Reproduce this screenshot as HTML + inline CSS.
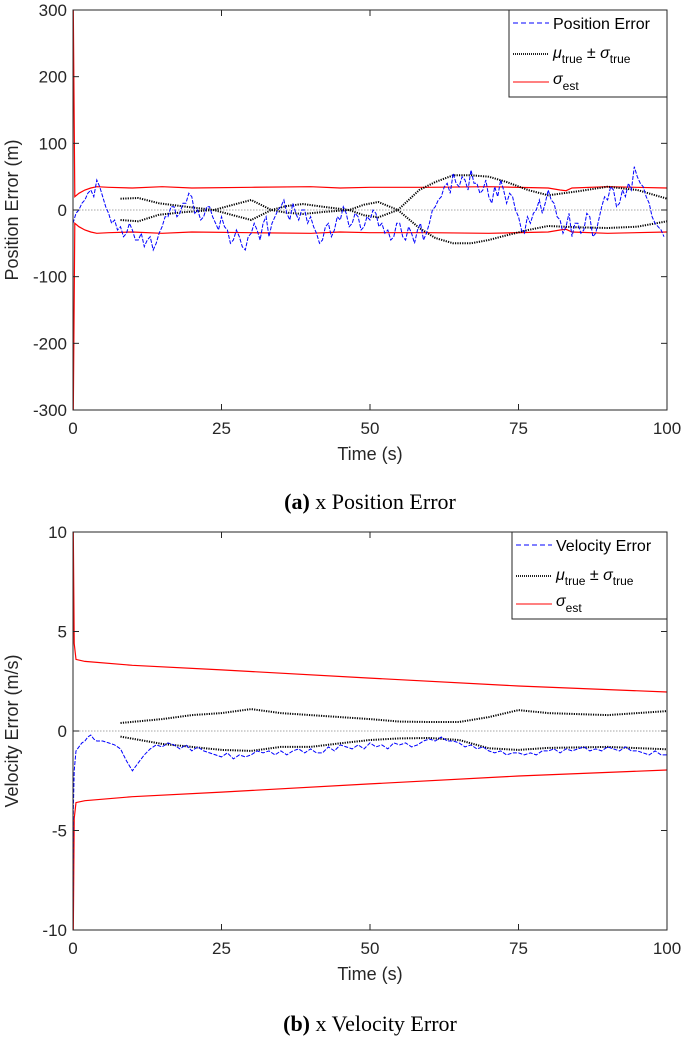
<!DOCTYPE html>
<html><head><meta charset="utf-8"><style>
body{margin:0;background:#fff;width:685px;height:1039px;overflow:hidden}
svg{display:block}
.tick{font-family:"Liberation Sans",sans-serif;font-size:17px;fill:#262626}
.lab{font-family:"Liberation Sans",sans-serif;font-size:18px;fill:#262626}
.cap{font-family:"Liberation Serif",serif;font-size:22px;fill:#000}
.leg{font-family:"Liberation Sans",sans-serif;font-size:16px;fill:#000}
</style></head><body>
<svg id="fig" width="685" height="1039"></svg>
<script>
// ---- data: position plot ----
const posTimes = [0,0.5,1,1.5,2,2.5,3,3.5,4,4.5,5,5.5,6,6.5,7,7.5,8,8.5,9,9.5,10,10.5,11,11.5,12,12.5,13,13.5,14,14.5,15,15.5,16,16.5,17,17.5,18,18.5,19,19.5,20,20.5,21,21.5,22,22.5,23,23.5,24,24.5,25,25.5,26,26.5,27,27.5,28,28.5,29,29.5,30,30.5,31,31.5,32,32.5,33,33.5,34,34.5,35,35.5,36,36.5,37,37.5,38,38.5,39,39.5,40,40.5,41,41.5,42,42.5,43,43.5,44,44.5,45,45.5,46,46.5,47,47.5,48,48.5,49,49.5,50,50.5,51,51.5,52,52.5,53,53.5,54,54.5,55,55.5,56,56.5,57,57.5,58,58.5,59,59.5,60,60.5,61,61.5,62,62.5,63,63.5,64,64.5,65,65.5,66,66.5,67,67.5,68,68.5,69,69.5,70,70.5,71,71.5,72,72.5,73,73.5,74,74.5,75,75.5,76,76.5,77,77.5,78,78.5,79,79.5,80,80.5,81,81.5,82,82.5,83,83.5,84,84.5,85,85.5,86,86.5,87,87.5,88,88.5,89,89.5,90,90.5,91,91.5,92,92.5,93,93.5,94,94.5,95,95.5,96,96.5,97,97.5,98,98.5,99,99.5,100];
const posError = [-20,-5,0,10,15,25,30,20,45,35,20,5,-5,-20,-15,-30,-25,-40,-35,-20,-30,-45,-45,-35,-55,-45,-40,-60,-50,-35,-25,-10,-10,5,5,-10,-5,10,10,25,20,-5,0,-15,-10,5,5,-10,-20,-30,-10,-25,-30,-50,-45,-30,-40,-55,-60,-40,-35,-20,-30,-45,-20,-10,-40,-20,-10,0,5,15,-5,-15,10,-5,-15,0,0,-20,-10,-25,-35,-50,-45,-25,-20,-40,-30,-10,-15,5,-5,-25,-20,-5,-10,-30,-25,-10,-15,0,-5,-25,-20,-35,-30,-45,-40,-20,-20,-40,-45,-25,-35,-50,-30,-20,-45,-35,-20,0,5,15,20,35,40,25,55,40,35,50,45,30,60,40,40,25,30,45,20,10,35,20,45,30,10,25,20,0,-10,-30,-35,-10,-20,-5,0,15,-5,10,30,15,10,-10,-15,-35,-25,-5,-40,-20,-20,-35,-30,-5,-10,-40,-35,-15,5,20,15,35,30,5,10,30,20,40,30,65,50,40,35,20,10,-10,-20,-25,-30,-40];
const posMuTimes = [8,11,14.5,19,23.7,27,30,33.4,36,38.7,42,46.5,49,51.4,54.7,58.3,61,64,67,70,73,76.6,80,85,90,95,100];
const posMuA = [17,18,10,5,0,-8,-15,0,6,9,5,0,-8,-11,0,30,42,52,52,50,42,30,22,28,35,30,17];
const posMuB = [-15,-17,-7,-3,0,8,15,0,-4,-6,-3,0,8,12,0,-27,-42,-50,-50,-45,-38,-30,-24,-26,-27,-25,-17];
const posSigTimes = [0,0.05,0.3,1,2,3,4,6,10,15,20,30,40,45,50,60,70,80,82,83,84,90,100];
const posSigma = [300,300,20,25,30,33,35,34,33,35,33,34,35,33,34,34,35,33,30,29,33,35,33];
// ---- data: velocity plot ----
const velTimes = [0,0.05,0.2,0.5,1,1.5,2,2.5,3,3.5,4,5,6,7,8,9,10,11,12,13,14,15,16,17,18,19,20,21,22,23,24,25,26,27,28,29,30,31,32,33,34,35,36,37,38,39,40,41,42,43,44,45,46,47,48,49,50,51,52,53,54,55,56,57,58,59,60,61,62,63,64,65,66,67,68,69,70,71,72,73,74,75,76,77,78,79,80,81,82,83,84,85,86,87,88,89,90,91,92,93,94,95,96,97,98,99,100];
const velError = [-10,-4,-2,-1,-0.8,-0.6,-0.5,-0.3,-0.2,-0.4,-0.5,-0.5,-0.6,-0.7,-0.9,-1.5,-2.0,-1.6,-1.2,-0.9,-0.7,-0.8,-0.6,-0.7,-0.9,-0.7,-1.0,-0.8,-1.0,-1.1,-1.2,-1.3,-1.1,-1.4,-1.2,-1.3,-1.2,-1.0,-1.1,-1.0,-1.2,-1.0,-1.2,-1.0,-0.9,-1.1,-0.9,-1.1,-1.1,-0.8,-1.0,-0.7,-0.8,-0.9,-0.7,-0.9,-0.6,-0.8,-0.7,-0.9,-0.6,-0.7,-0.6,-0.8,-0.7,-0.5,-0.4,-0.5,-0.3,-0.5,-0.5,-0.6,-0.8,-0.7,-0.9,-0.8,-1.0,-1.1,-1.0,-1.2,-1.1,-1.1,-1.2,-1.1,-1.2,-1.0,-1.0,-0.9,-1.1,-0.9,-1.0,-0.9,-0.8,-1.0,-0.9,-1.0,-0.8,-0.9,-1.0,-0.8,-1.0,-1.0,-1.1,-1.2,-1.0,-1.2,-1.2];
const velMuTimes = [8,15,20,25,30,35,40,45,50,55,60,65,70,75,80,90,100];
const velMuUp = [0.4,0.6,0.8,0.9,1.1,0.9,0.8,0.7,0.6,0.47,0.45,0.45,0.7,1.05,0.9,0.8,1.0];
const velMuLo = [-0.28,-0.65,-0.8,-0.95,-1.0,-0.8,-0.8,-0.62,-0.45,-0.37,-0.35,-0.45,-0.87,-0.95,-0.85,-0.8,-0.92];
const velSigTimes = [0,0.05,0.2,0.5,2,10,25,50,75,100];
const velSigma = [10,10,4.4,3.6,3.5,3.3,3.07,2.66,2.26,1.96];
const xTicks = [0,25,50,75,100];
const posTicks = [300,200,100,0,-100,-200,-300];
const velTicks = [10,5,0,-5,-10];

const NS="http://www.w3.org/2000/svg";
const svg=document.getElementById('fig');
function el(t,a,p){const e=document.createElementNS(NS,t);for(const k in a)e.setAttribute(k,a[k]);(p||svg).appendChild(e);return e;}

function panel(cfg){
  const L=73,R=667,T=cfg.top,B=cfg.bottom;
  const sx=t=>L+(t-0)/100*(R-L);
  const sy=v=>T+(cfg.ymax-v)/(cfg.ymax-cfg.ymin)*(B-T);
  const g=el('g',{});
  
  
  const cid='clip'+cfg.name;
  const cp=el('clipPath',{id:cid},g);el('rect',{x:L,y:T,width:R-L,height:B-T},cp);
  const z=el('line',{x1:L,x2:R,y1:sy(0),y2:sy(0),stroke:'#888','stroke-width':0.8,'stroke-dasharray':'1.5 1.5'},g);
  
  const plot=el('g',{'clip-path':`url(#${cid})`},g);
  function line(ts,vs,st,name){
    const d=ts.map((t,i)=>(i?'L':'M')+sx(t).toFixed(1)+' '+sy(vs[i]).toFixed(1)).join('');
    const p=el('path',Object.assign({d:d,fill:'none'},st),plot);
    
  }
  const red={stroke:'#ff0000','stroke-width':1.2};
  line(cfg.sigT,cfg.sig,red,'sigma-est-upper');
  line(cfg.sigT,cfg.sig.map(v=>-v),red,'sigma-est-lower');
  const blk={stroke:'#000','stroke-width':2,'stroke-dasharray':'1.2 1.2'};
  line(cfg.muT,cfg.muA,blk,'mu-sigma-true-a');
  line(cfg.muT,cfg.muB,blk,'mu-sigma-true-b');
  line(cfg.errT,cfg.err,{stroke:'#0000ff','stroke-width':1,'stroke-dasharray':'4 1.5'},cfg.errName);
  const box=el('rect',{x:L,y:T,width:R-L,height:B-T,fill:'none',stroke:'#262626','stroke-width':1},g);
  
  xTicks.forEach(t=>{
    el('line',{x1:sx(t),x2:sx(t),y1:B,y2:B-6,stroke:'#262626'},g);
    el('line',{x1:sx(t),x2:sx(t),y1:T,y2:T+6,stroke:'#262626'},g);
    const tx=el('text',{x:sx(t),y:B+24,'text-anchor':'middle',class:'tick'},g);tx.textContent=t;
    
  });
  cfg.yt.forEach(v=>{
    el('line',{x1:L,x2:L+6,y1:sy(v),y2:sy(v),stroke:'#262626'},g);
    el('line',{x1:R,x2:R-6,y1:sy(v),y2:sy(v),stroke:'#262626'},g);
    const tx=el('text',{x:L-6,y:sy(v)+6,'text-anchor':'end',class:'tick'},g);tx.textContent=v;
    
  });
  const xl=el('text',{x:(L+R)/2,y:B+50,'text-anchor':'middle',class:'lab'},g);xl.textContent='Time (s)';
  
  const yl=el('text',{x:0,y:0,'text-anchor':'middle',class:'lab',transform:`translate(18,${(T+B)/2}) rotate(-90)`},g);yl.textContent=cfg.ylabel;
  
  const lg=el('g',{},g);
  
  el('rect',{x:cfg.legX,y:T,width:R-cfg.legX,height:87,fill:'#fff',stroke:'#262626','stroke-width':1},lg);
  const lx=cfg.legX+4;
  el('line',{x1:lx,x2:lx+36,y1:T+13,y2:T+13,stroke:'#0000ff','stroke-dasharray':'5 3'},lg);
  const t1=el('text',{x:lx+40,y:T+19,class:'leg'},lg);t1.textContent=cfg.errLabel;
  el('line',{x1:lx,x2:lx+36,y1:T+44,y2:T+44,stroke:'#000','stroke-width':1.8,'stroke-dasharray':'1 1'},lg);
  const t2=el('text',{x:lx+40,y:T+48,class:'leg'},lg);
  t2.innerHTML='<tspan font-style="italic">μ</tspan><tspan font-size="12" dy="5">true</tspan><tspan dy="-5"> ± </tspan><tspan font-style="italic">σ</tspan><tspan font-size="12" dy="5">true</tspan>';
  el('line',{x1:lx,x2:lx+36,y1:T+72,y2:T+72,stroke:'#ff0000'},lg);
  const t3=el('text',{x:lx+40,y:T+74,class:'leg'},lg);
  t3.innerHTML='<tspan font-style="italic">σ</tspan><tspan font-size="12" dy="6">est</tspan>';
}
panel({name:'position-panel',top:10,bottom:410,ymin:-300,ymax:300,yt:posTicks,errT:posTimes,err:posError,errName:'position-error-line',
  muT:posMuTimes,muA:posMuA,muB:posMuB,sigT:posSigTimes,sig:posSigma,ylabel:'Position Error (m)',legX:509,errLabel:'Position Error'});
panel({name:'velocity-panel',top:532,bottom:930,ymin:-10,ymax:10,yt:velTicks,errT:velTimes,err:velError,errName:'velocity-error-line',
  muT:velMuTimes,muA:velMuUp,muB:velMuLo,sigT:velSigTimes,sig:velSigma,ylabel:'Velocity Error (m/s)',legX:512,errLabel:'Velocity Error'});
const c1=el('text',{x:370,y:509,'text-anchor':'middle',class:'cap'});
c1.innerHTML='<tspan font-weight="bold">(a)</tspan> x Position Error';

const c2=el('text',{x:370,y:1031,'text-anchor':'middle',class:'cap'});
c2.innerHTML='<tspan font-weight="bold">(b)</tspan> x Velocity Error';

</script>
</body></html>
